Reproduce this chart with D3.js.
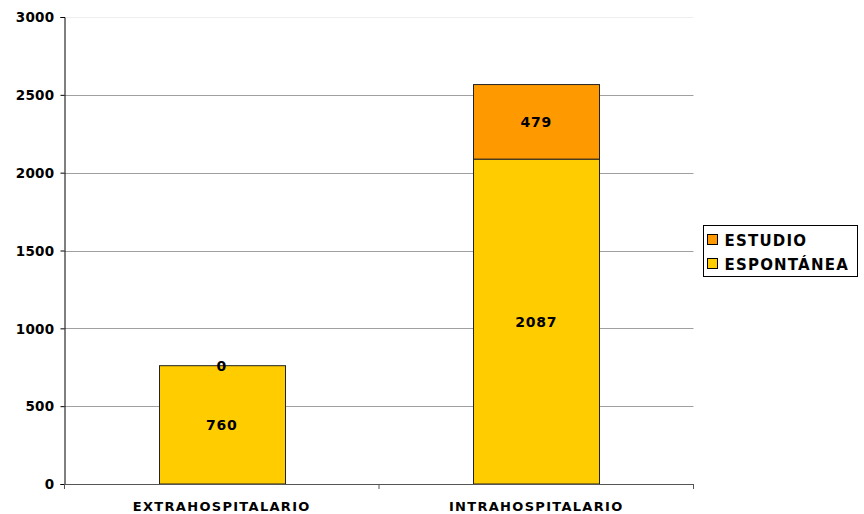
<!DOCTYPE html>
<html>
<head>
<meta charset="utf-8">
<script src="https://cdn.jsdelivr.net/npm/d3@7"></script>
<style>
  body { margin: 0; background: #fff; }
  text { font-family: "DejaVu Sans", Verdana, sans-serif; font-weight: bold; fill: #000; }
</style>
</head>
<body>
<svg width="864" height="514"></svg>
<script>
// data
var categories = ["EXTRAHOSPITALARIO", "INTRAHOSPITALARIO"];
var espontanea = [760, 2087];
var estudio = [0, 479];
var seriesNames = ["ESPONTÁNEA", "ESTUDIO"];
var seriesColors = ["#ffcc00", "#ff9900"];
var yTicks = [0, 500, 1000, 1500, 2000, 2500, 3000];

var svg = d3.select("svg");
var plotLeft = 64.5, plotRight = 693.5, plotTop = 17, plotBottom = 484;

var x = d3.scaleBand().domain(categories).range([plotLeft, plotRight]).paddingInner(0.6).paddingOuter(0.3);
var y = d3.scaleLinear().domain([0, 3000]).range([plotBottom, plotTop]);

// gridlines
svg.append("g").selectAll("line")
  .data(yTicks.filter(function(d) { return d > 0; }))
  .enter().append("line")
  .attr("x1", plotLeft).attr("x2", plotRight)
  .attr("y1", function(d) { return Math.round(y(d)) + 0.5; })
  .attr("y2", function(d) { return Math.round(y(d)) + 0.5; })
  .attr("stroke", function(d) { return d == 3000 ? "#eeeeee" : "#a0a0a0"; })
  .attr("stroke-width", 1);

// stacked data
var rows = categories.map(function(c, i) {
  return { cat: c, ESPONTANEA: espontanea[i], ESTUDIO: estudio[i] };
});
var stack = d3.stack().keys(["ESPONTANEA", "ESTUDIO"]);
var layers = stack(rows);

var layerG = svg.append("g").selectAll("g")
  .data(layers)
  .enter().append("g")
  .attr("fill", function(d, i) { return seriesColors[i]; });

layerG.selectAll("rect")
  .data(function(d) { return d; })
  .enter().append("rect")
  .attr("x", function(d) { return Math.round(x(d.data.cat)) + 0.5; })
  .attr("width", Math.round(x.bandwidth()))
  .attr("y", function(d) { return y(d[1]); })
  .attr("height", function(d) { return y(d[0]) - y(d[1]); })
  .attr("stroke", "#222")
  .attr("stroke-width", 1);

// value labels
layerG.selectAll("text")
  .data(function(d) { return d; })
  .enter().append("text")
  .attr("x", function(d) { return x(d.data.cat) + x.bandwidth() / 2; })
  .attr("y", function(d) { return (y(d[0]) + y(d[1])) / 2 + 5; })
  .attr("text-anchor", "middle")
  .style("font-size", "14px")
  .style("letter-spacing", "0.8px")
  .text(function(d) { return d[1] - d[0]; });

// y axis
var yAxis = d3.axisLeft(y).tickValues(yTicks).tickFormat(d3.format("d")).tickSize(4).tickPadding(6);
var yg = svg.append("g").attr("transform", "translate(" + plotLeft + ",0)").call(yAxis);
yg.select(".domain").attr("stroke", "#000");
yg.selectAll(".tick line").attr("stroke", "#000");
yg.selectAll("text").style("font-size", "13.5px").style("letter-spacing", "0.3px").attr("dy", "0.35em");

// x axis
var xg = svg.append("g").attr("transform", "translate(0," + plotBottom + ")");
xg.append("line").attr("x1", plotLeft).attr("x2", plotRight).attr("y1", 0.5).attr("y2", 0.5).attr("stroke", "#555");
var edges = [plotLeft, (plotLeft + plotRight) / 2, plotRight];
xg.selectAll(".xt").data(edges).enter().append("line")
  .attr("x1", function(d) { return d; }).attr("x2", function(d) { return d; })
  .attr("y1", 0).attr("y2", 5).attr("stroke", "#555");
xg.selectAll("text").data(categories).enter().append("text")
  .attr("x", function(d) { return x(d) + x.bandwidth() / 2; })
  .attr("y", 27)
  .attr("text-anchor", "middle")
  .style("font-size", "13px")
  .style("letter-spacing", "1.3px")
  .text(function(d) { return d; });

// legend
var lg = svg.append("g").attr("transform", "translate(703.5,225.5)");
lg.append("rect").attr("width", 154).attr("height", 51).attr("fill", "#fff").attr("stroke", "#000");
var legendOrder = [1, 0];
lg.selectAll(".item").data(legendOrder).enter().append("g")
  .attr("transform", function(d, i) { return "translate(4," + (9 + i * 24) + ")"; })
  .each(function(d) {
    var it = d3.select(this);
    it.append("rect").attr("width", 10).attr("height", 10)
      .attr("fill", seriesColors[d]).attr("stroke", "#000");
    it.append("text").attr("x", 17).attr("y", 11)
      .style("font-size", "15px")
      .style("letter-spacing", "1.2px")
      .text(seriesNames[d]);
  });
</script>
</body>
</html>
